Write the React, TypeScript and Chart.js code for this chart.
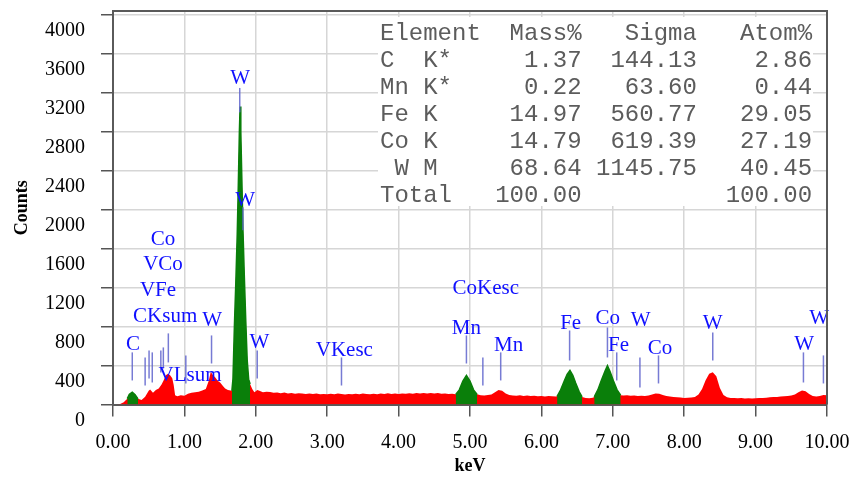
import React, { useEffect, useRef } from 'react';
import { Chart, registerables } from 'chart.js';

Chart.register(...registerables);

// ---- Spectrum (keV vs counts) ----
const energyKeV = [
  0.0, 0.05, 0.1, 0.15, 0.2, 0.23, 0.27, 0.31, 0.35, 0.4,
  0.45, 0.5, 0.52, 0.56, 0.6, 0.64, 0.68, 0.71, 0.74, 0.77,
  0.8, 0.83, 0.85, 0.87, 0.9, 0.95, 1.0, 1.05, 1.1, 1.15,
  1.2, 1.25, 1.3, 1.34, 1.37, 1.4, 1.43, 1.47, 1.5, 1.54,
  1.57, 1.61, 1.665, 1.68, 1.7, 1.72, 1.74, 1.755, 1.77, 1.78,
  1.79, 1.805, 1.82, 1.84, 1.86, 1.88, 1.9, 1.92, 1.95, 1.98,
  2.0, 2.02, 2.05, 2.1, 2.15, 2.2, 2.25, 2.3, 2.35, 2.4,
  2.45, 2.5, 2.55, 2.6, 2.65, 2.7, 2.75, 2.8, 2.85, 2.9,
  2.95, 3.0, 3.05, 3.1, 3.15, 3.2, 3.25, 3.3, 3.35, 3.4,
  3.45, 3.5, 3.55, 3.6, 3.65, 3.7, 3.75, 3.8, 3.85, 3.9,
  3.95, 4.0, 4.05, 4.1, 4.15, 4.2, 4.25, 4.3, 4.35, 4.4,
  4.45, 4.5, 4.55, 4.6, 4.65, 4.7, 4.75, 4.8, 4.85, 4.9,
  4.95, 5.0, 5.05, 5.1, 5.15, 5.2, 5.25, 5.3, 5.35, 5.4,
  5.45, 5.5, 5.55, 5.6, 5.65, 5.7, 5.75, 5.8, 5.85, 5.9,
  5.95, 6.0, 6.05, 6.1, 6.15, 6.2, 6.22, 6.27, 6.32, 6.36,
  6.4, 6.44, 6.48, 6.53, 6.57, 6.62, 6.67, 6.72, 6.74, 6.79,
  6.84, 6.89, 6.925, 6.96, 7.01, 7.06, 7.11, 7.15, 7.2, 7.25,
  7.3, 7.35, 7.4, 7.45, 7.5, 7.55, 7.6, 7.65, 7.7, 7.75,
  7.8, 7.85, 7.9, 7.95, 8.0, 8.05, 8.1, 8.15, 8.2, 8.25,
  8.3, 8.35, 8.4, 8.45, 8.5, 8.55, 8.6, 8.65, 8.7, 8.75,
  8.8, 8.85, 8.9, 8.95, 9.0, 9.05, 9.1, 9.15, 9.2, 9.25,
  9.3, 9.35, 9.4, 9.45, 9.5, 9.55, 9.6, 9.65, 9.7, 9.75,
  9.8, 9.85, 9.9, 9.95, 10.0,
];
const counts = [
  0, 0, 5, 22, 60, 105, 126, 100, 58, 45,
  80, 140, 155, 120, 150, 165, 205, 250, 300, 315,
  300, 270, 200, 95, 85, 95, 90, 110, 120, 125,
  132, 145, 160, 240, 335, 300, 280, 240, 225, 190,
  165, 150, 140, 260, 800, 1250, 1750, 2250, 2800, 3060,
  2800, 2300, 1800, 1300, 850, 450, 260, 210, 160, 125,
  135, 150, 140, 126, 132, 128, 120, 124, 116, 122,
  112, 118, 110, 116, 112, 108, 114, 107, 112, 105,
  109, 104, 110, 106, 112, 108, 102, 109, 105, 111,
  106, 112, 107, 104, 110, 106, 112, 108, 115, 109,
  112, 107, 113, 110, 116, 111, 117, 112, 118, 114,
  118, 113, 117, 111, 114, 109, 110, 104, 150, 240,
  298, 240, 150, 104, 96, 92, 97, 102, 125, 150,
  140, 112, 97, 92, 90, 94, 88, 92, 86, 90,
  84, 88, 82, 86, 84, 82, 84, 150, 240, 310,
  350, 300, 220, 130, 78, 66, 64, 70, 78, 150,
  250, 340, 400, 340, 240, 150, 96, 92, 94, 90,
  92, 88, 90, 86, 92, 102, 114, 110, 97, 87,
  82, 76, 74, 72, 68, 70, 72, 77, 102, 160,
  250, 315, 330, 290, 170, 97, 74, 68, 66, 64,
  66, 62, 64, 62, 64, 66, 68, 70, 74, 76,
  78, 82, 84, 87, 92, 102, 125, 145, 135, 107,
  87, 82, 87, 97, 94,
];
// keV ranges drawn in green (fitted peaks)
const greenRanges = [
  [0.2, 0.35],
  [1.665, 1.92],
  [4.8, 5.1],
  [6.22, 6.57],
  [6.74, 7.11],
];

const xTickValues = [0, 1, 2, 3, 4, 5, 6, 7, 8, 9, 10];
const yTickValues = [0, 400, 800, 1200, 1600, 2000, 2400, 2800, 3200, 3600, 4000];

// ---- Peak marker lines (keV, top count, bottom count) ----
const markerKeV = [0.27, 0.45, 0.505, 0.55, 0.67, 0.705, 0.775, 1.02, 1.38, 1.775, 1.82, 2.02, 3.2, 4.95, 5.18, 5.43, 6.395, 6.925, 7.055, 7.38, 7.64, 8.4, 9.67, 9.95];
const markerTop = [535, 483, 555, 535, 555, 586, 730, 504, 709, 3250, 2025, 555, 483, 709, 483, 535, 760, 791, 535, 483, 504, 740, 535, 504];
const markerBottom = [247, 195, 267, 226, 329, 370, 432, 216, 421, 3000, 1790, 267, 195, 421, 195, 247, 452, 483, 247, 175, 216, 452, 226, 216];

// ---- Peak labels ----
const labelText = ['Co', 'VCo', 'VFe', 'CKsum', 'C', 'VLsum', 'W', 'W', 'VKesc', 'W', 'W', 'CoKesc', 'Mn', 'Mn', 'Fe', 'Co', 'Fe', 'W', 'Co', 'W', 'W', 'W'];
const labelKeV = [0.7, 0.7, 0.63, 0.73, 0.28, 1.08, 1.39, 2.05, 3.24, 1.78, 1.85, 5.22, 4.95, 5.54, 6.41, 6.93, 7.08, 7.39, 7.66, 8.4, 9.68, 9.89];
const labelCounts = [1696, 1439, 1172, 905, 617, 298, 864, 637, 555, 3351, 2097, 1192, 781, 607, 833, 884, 607, 864, 576, 833, 617, 884];

// ---- Quantification table ----
const tableHeader = ['Element', 'Mass%', 'Sigma', 'Atom%'];
const tableElements = ['C  K*', 'Mn K*', 'Fe K', 'Co K', ' W M', 'Total'];
const tableMass = ['1.37', '0.22', '14.97', '14.79', '68.64', '100.00'];
const tableSigma = ['144.13', '63.60', '560.77', '619.39', '1145.75', ''];
const tableAtom = ['2.86', '0.44', '29.05', '27.19', '40.45', '100.00'];

const spectrumPoints = energyKeV.map((e, i) => ({ x: e, y: counts[i] }));
const greenSets = greenRanges.map(([a, b]) =>
  spectrumPoints.filter((p) => p.x >= a - 1e-9 && p.x <= b + 1e-9)
);

const overlayPlugin = {
  id: 'edsOverlay',
  afterDatasetsDraw(chart: any) {
    const { ctx, chartArea: a, scales } = chart;
    const xs = scales.x;
    const ys = scales.y;
    ctx.save();

    // table background
    ctx.fillStyle = '#ffffff';
    ctx.fillRect(a.left + 265, a.top + 6, 435, 189);

    // table text (monospace, fixed columns)
    ctx.font = '24px "Liberation Mono", "DejaVu Sans Mono", monospace';
    ctx.fillStyle = '#5c5c5c';
    ctx.textAlign = 'left';
    ctx.textBaseline = 'middle';
    const tx = a.left + 267;
    const ty = a.top + 23;
    const rowH = 26.9;
    const header = tableHeader[0].padEnd(7) + tableHeader[1].padStart(7) + tableHeader[2].padStart(8) + tableHeader[3].padStart(8);
    ctx.fillText(header, tx, ty);
    tableElements.forEach((el, i) => {
      const row = el.padEnd(7) + tableMass[i].padStart(7) + tableSigma[i].padStart(8) + tableAtom[i].padStart(8);
      ctx.fillText(row, tx, ty + (i + 1) * rowH);
    });

    // marker lines
    ctx.strokeStyle = 'rgba(95, 100, 205, 0.85)';
    ctx.lineWidth = 1.5;
    markerKeV.forEach((k, i) => {
      const px = xs.getPixelForValue(k);
      ctx.beginPath();
      ctx.moveTo(px, ys.getPixelForValue(markerTop[i]));
      ctx.lineTo(px, ys.getPixelForValue(markerBottom[i]));
      ctx.stroke();
    });

    // labels
    ctx.font = '21px "Liberation Serif", "Times New Roman", serif';
    ctx.fillStyle = '#1010ff';
    ctx.textAlign = 'center';
    ctx.textBaseline = 'middle';
    labelText.forEach((t, i) => {
      ctx.fillText(t, xs.getPixelForValue(labelKeV[i]), ys.getPixelForValue(labelCounts[i]));
    });

    // frame (top and right)
    ctx.strokeStyle = '#5a5a5a';
    ctx.lineWidth = 2;
    ctx.beginPath();
    ctx.moveTo(a.left, a.top);
    ctx.lineTo(a.right, a.top);
    ctx.lineTo(a.right, a.bottom);
    ctx.stroke();
    ctx.restore();
  },
};

export default function App() {
  const canvasRef = useRef<HTMLCanvasElement | null>(null);

  useEffect(() => {
    const canvas = canvasRef.current;
    if (!canvas) return;
    const tickFont = { family: '"Liberation Serif", "Times New Roman", serif', size: 20, lineHeight: 1.1 };
    const titleFont = { family: '"Liberation Serif", "Times New Roman", serif', size: 18, weight: 'bold' as const };
    const greenDatasets = greenSets.map((pts) => ({
      data: pts as any,
      borderColor: '#0a7f0a',
      backgroundColor: '#0a7f0a',
      borderWidth: 1.5,
      pointRadius: 0,
      fill: 'origin',
      tension: 0,
      order: 0,
    }));
    const chart = new Chart(canvas, {
      type: 'line',
      data: {
        datasets: [
          ...greenDatasets,
          {
            data: spectrumPoints as any,
            borderColor: '#ff0000',
            backgroundColor: '#ff0000',
            borderWidth: 0,
            pointRadius: 0,
            fill: 'origin',
            tension: 0,
            order: 1,
          },
        ],
      },
      options: {
        animation: false,
        responsive: false,
        maintainAspectRatio: false,
        events: [],
        layout: { padding: { left: 0, top: 11, right: 29, bottom: 0 } },
        plugins: { legend: { display: false }, tooltip: { enabled: false } },
        scales: {
          x: {
            type: 'linear',
            min: 0,
            max: 10,
            afterBuildTicks: (s: any) => {
              s.ticks = xTickValues.map((v) => ({ value: v }));
            },
            afterFit: (s: any) => {
              s.height = 480 - 404.5;
              s.paddingLeft = 0;
              s.paddingRight = 0;
            },
            ticks: {
              autoSkip: false,
              maxRotation: 0,
              padding: 15,
              color: '#000000',
              font: tickFont,
              callback: (v: any) => Number(v).toFixed(2),
            },
            grid: { color: '#d6d6d6', lineWidth: 1.5, tickLength: 12, tickColor: '#555555', tickWidth: 1.5 },
            border: { display: true, color: '#5a5a5a', width: 2 },
            title: { display: true, text: 'keV', color: '#000000', font: titleFont, padding: { top: 0, bottom: 3 } },
          },
          y: {
            min: 0,
            max: 4040,
            afterBuildTicks: (s: any) => {
              s.ticks = yTickValues.map((v) => ({ value: v }));
            },
            afterFit: (s: any) => {
              s.width = 113;
              s.paddingTop = 0;
              s.paddingBottom = 0;
            },
            ticks: {
              padding: 16,
              labelOffset: 16,
              color: '#000000',
              font: tickFont,
              callback: (v: any) => String(v),
            },
            grid: { color: '#d6d6d6', lineWidth: 1.5, tickLength: 12, tickColor: '#555555', tickWidth: 1.5 },
            border: { display: true, color: '#5a5a5a', width: 2 },
            title: { display: true, text: 'Counts', color: '#000000', font: titleFont, padding: { top: 12, bottom: 0 } },
          },
        },
      } as any,
      plugins: [overlayPlugin],
    });
    return () => chart.destroy();
  }, []);

  return (
    <div style={{ position: 'fixed', left: 0, top: 0, width: 856, height: 480, background: '#ffffff' }}>
      <canvas ref={canvasRef} width={856} height={480} style={{ display: 'block', width: 856, height: 480 }} />
    </div>
  );
}
